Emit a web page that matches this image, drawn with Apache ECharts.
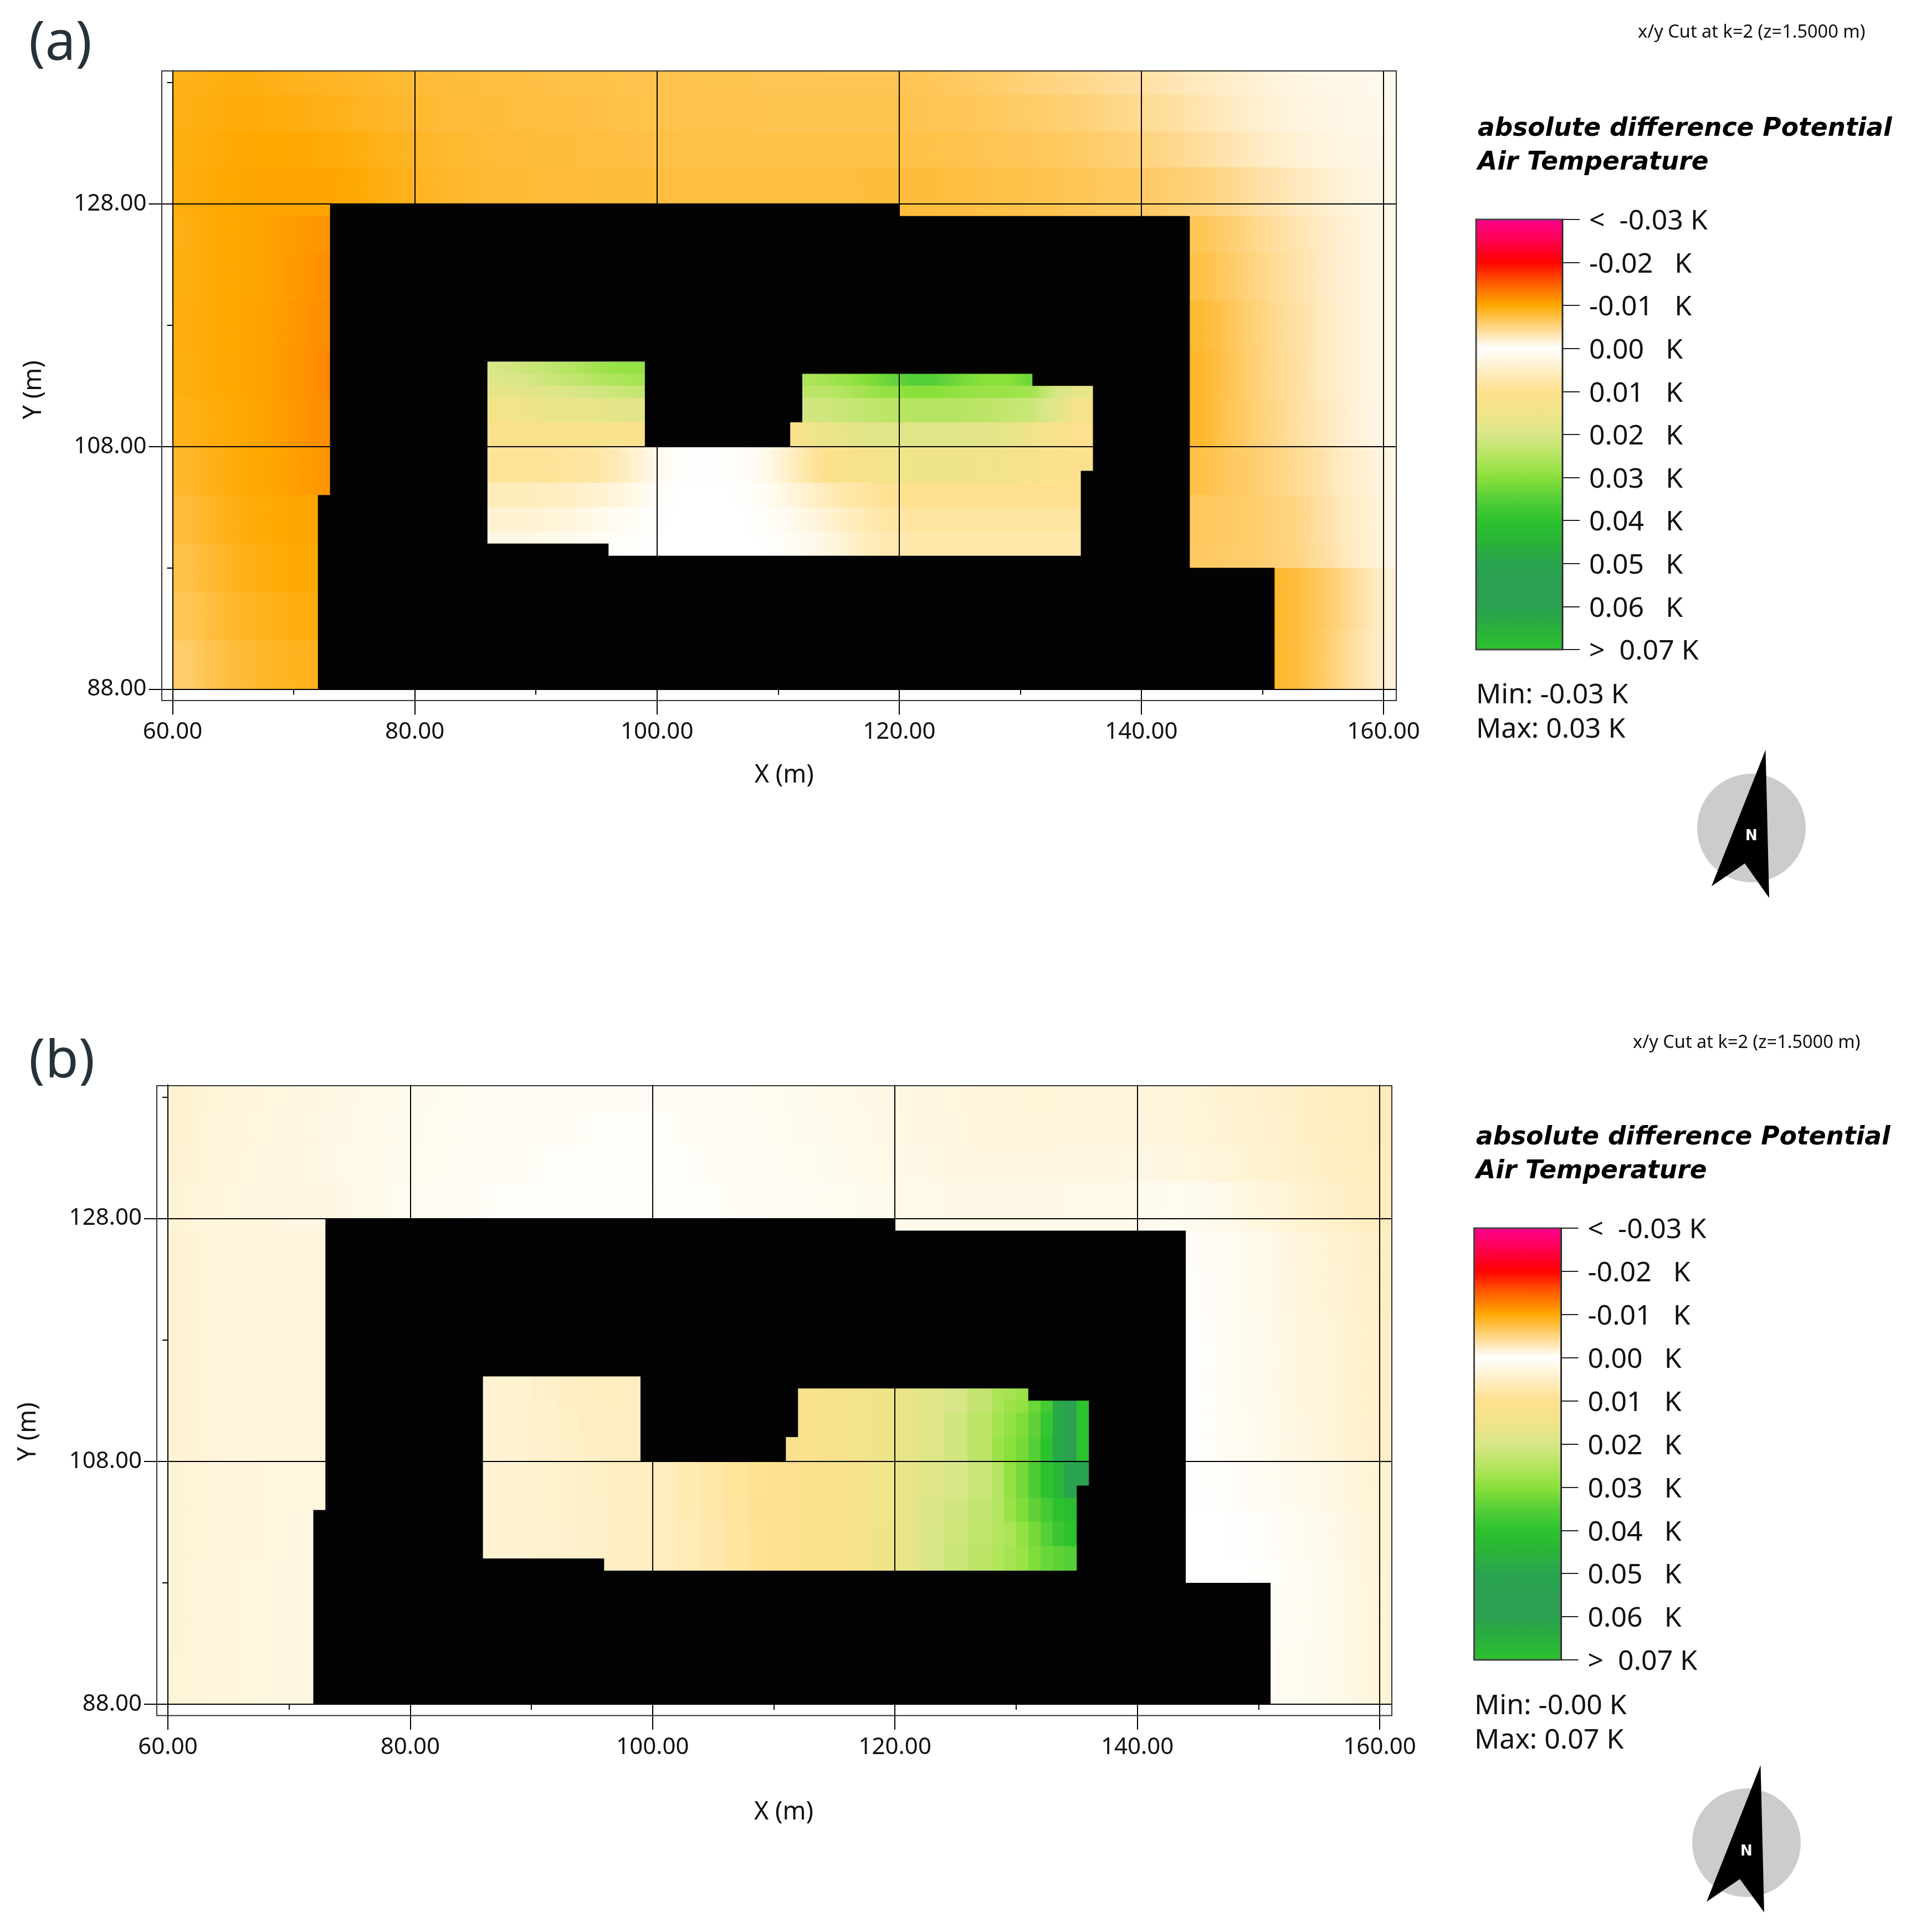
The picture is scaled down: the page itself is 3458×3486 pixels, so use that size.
<!DOCTYPE html>
<html>
<head>
<meta charset="utf-8">
<style>html,body{margin:0;padding:0;background:#fff}#chart{width:3458px;height:3486px}</style>
<script src="https://cdn.jsdelivr.net/npm/echarts@6/dist/echarts.min.js"></script>
</head>
<body>
<div id="chart"></div>
<script>
// all field values are in mK, null = no cell in that spot (building)
var xTickValues = [60, 80, 100, 120, 140, 160];
var yTickValues = [88, 108, 128];
var xMinorValues = [70, 90, 110, 130, 150];
var yMinorValues = [98, 118, 138];

var legendTicks = [-30, -20, -10, 0, 10, 20, 30, 40, 50, 60, 70];
var legendLabels = ['<  -0.03 K', '-0.02   K', '-0.01   K', '0.00   K', '0.01   K', '0.02   K', '0.03   K', '0.04   K', '0.05   K', '0.06   K', '>  0.07 K'];
// colour bar, one colour every 5 mK from -30 to 70
var colorStops = ['#ff0090', '#ff0050', '#ff0000', '#ff5c00', '#ffa800', '#ffd480', '#ffffff', '#ffefc6', '#ffe08e', '#f0e488', '#d9e688',
  '#b5e560', '#8ae03a', '#55cf38', '#2cc22e', '#2ab338', '#2aa350', '#2aa050', '#2aa050', '#2ab03c', '#2cc22e'];

// building footprint and inner court outline, metres
var buildingOutline = [[73, 108], [73, 128], [120, 128], [120, 127], [144, 127], [144, 98], [151, 98], [151, 88], [72, 88], [72, 104], [73, 104]];
var courtOutline = [[86, 108], [86, 115], [99, 115], [99, 108], [111, 108], [111, 110], [112, 110], [112, 114], [131, 114], [131, 113], [136, 113], [136, 106], [135, 106], [135, 99], [96, 99], [96, 100], [86, 100]];

// cell edges, metres
var topX = [60, 62, 64, 66, 68, 70, 72, 74, 76, 78, 80, 82, 84, 86, 88, 90, 92, 94, 96, 98, 100, 102, 104, 106, 108, 110, 112, 114, 116, 118, 120, 122, 124, 126, 128, 130, 132, 134, 136, 138, 140, 142, 144, 146, 148, 150, 152, 154, 156, 158, 160, 161];
var topY = [139, 137, 134, 131, 127];
var leftX = [60, 62, 64, 66, 68, 70, 72, 74];
var leftY = [127, 124, 120, 116, 112, 108, 104, 100, 96, 92, 88];
var rightX = [144, 146, 148, 150, 152, 154, 156, 158, 160, 161];
var rightY = [127, 124, 120, 116, 112, 108, 104, 100, 98, 93, 88];
var courtY = [115, 114, 113, 112, 110, 108, 105, 103, 101, 99];
var courtXa = [86, 88, 90, 92, 94, 96, 98, 100, 102, 104, 106, 108, 110, 112, 114, 116, 118, 120, 122, 124, 126, 128, 130, 132, 134, 136];
var courtXb = [86, 88, 90, 92, 94, 96, 98, 100, 102, 104, 106, 108, 110, 112, 114, 116, 118, 120, 122, 124, 126, 128, 129, 130, 131, 132, 133, 134, 135, 136];

// panel (a)
var aTop = [
  [-9, -9.2, -9.4, -9.3, -9, -8.8, -8.6, -8.4, -8.2, -8, -7.8, -7.7, -7.6, -7.5, -7.4, -7.3, -7.2, -7.2, -7.1, -7, -7, -6.9, -6.9, -6.9, -6.8, -6.8, -6.8, -6.7, -6.7, -6.7, -6.7, -6.5, -6.2, -5.9, -5.6, -5.2, -4.9, -4.6, -4.2, -3.8, -3.4, -2.9, -2.4, -2.1, -1.7, -1.4, -1.1, -1, -0.9, -0.8, -0.7],
  [-9.2, -9.4, -9.6, -9.6, -9.5, -9.3, -9.1, -8.8, -8.5, -8.2, -8, -7.8, -7.7, -7.6, -7.5, -7.4, -7.4, -7.3, -7.2, -7.1, -7.1, -7, -7, -7, -6.9, -6.9, -6.9, -6.9, -6.9, -6.9, -6.9, -6.8, -6.6, -6.4, -6.1, -5.9, -5.6, -5.3, -4.9, -4.5, -4.1, -3.6, -3, -2.5, -2, -1.6, -1.3, -1.1, -1, -0.9, -0.7],
  [-9.3, -9.6, -9.9, -10, -10, -9.9, -9.7, -9.4, -9, -8.7, -8.3, -8.1, -7.9, -7.8, -7.7, -7.6, -7.6, -7.5, -7.4, -7.3, -7.3, -7.2, -7.2, -7.2, -7.2, -7.2, -7.2, -7.2, -7.2, -7.2, -7.2, -7.1, -7, -6.8, -6.6, -6.5, -6.3, -6, -5.7, -5.3, -4.9, -4.4, -3.8, -3.2, -2.6, -2, -1.6, -1.3, -1.1, -1, -0.8],
  [-9.4, -9.8, -10, -10.2, -10.3, -10.3, -10.2, -9.9, -9.4, -9, -8.6, -8.3, -8.1, -8, -7.9, -7.8, -7.8, -7.7, -7.6, -7.6, -7.5, -7.5, -7.5, -7.5, -7.5, -7.5, -7.5, -7.5, -7.6, -7.6, -7.6, -7.6, -7.5, -7.3, -7.2, -7.1, -6.9, -6.6, -6.4, -6.2, -6, -5.6, -5.2, -4.6, -3.9, -3.2, -2.5, -2, -1.5, -1.1, -0.8]
];
var aLeft = [
  [-9.2, -9.8, -10, -10.2, -10.6, -11, -11.4],
  [-9.3, -9.8, -10, -10.2, -10.6, -11.2, -11.8],
  [-9.4, -9.8, -10, -10.3, -10.8, -11.4, -12],
  [-9.3, -9.7, -10, -10.3, -10.9, -11.5, -12.2],
  [-9, -9.5, -9.9, -10.2, -10.8, -11.4, -12],
  [-8.3, -9, -9.6, -10, -10.3, -10.8, -11.3],
  [-7.7, -8.5, -9.2, -9.7, -10, -10.2, -10.2],
  [-7.2, -8, -8.8, -9.3, -9.8, -9.9, -9.9],
  [-6.6, -7.5, -8.2, -8.8, -9.2, -9.5, -9.5],
  [-5.8, -6.8, -7.6, -8.2, -8.6, -8.9, -8.9]
];
var aRight = [
  [-6.6, -5.8, -4.8, -3.9, -3.1, -2.3, -1.7, -1.1, -0.8],
  [-7.2, -6.2, -5.1, -4.2, -3.3, -2.4, -1.7, -1.1, -0.8],
  [-8, -6.8, -5.5, -4.4, -3.5, -2.5, -1.7, -1.1, -0.8],
  [-8.3, -7, -5.6, -4.5, -3.6, -2.5, -1.7, -1.1, -0.8],
  [-8.2, -6.8, -5.7, -4.6, -3.7, -2.7, -1.9, -1.2, -0.8],
  [-7.2, -6.4, -5.8, -5, -4.2, -3.2, -2.2, -1.5, -1],
  [-6.4, -6.1, -5.8, -5.3, -4.7, -3.6, -2.5, -1.7, -1.1],
  [-6.2, -6, -5.8, -5.4, -4.9, -3.8, -2.6, -1.7, -1.1],
  [null, null, null, -8.2, -7.5, -6.2, -4.5, -2.8, -1.5],
  [null, null, null, -8.2, -7.5, -6, -4.2, -2.6, -1.5]
];
var aCourt = [
  [20, 22, 23, 25, 27, 29, 29, null, null, null, null, null, null, null, null, null, null, null, null, null, null, null, null, null, null],
  [19, 20, 22, 23, 25, 26, 27, null, null, null, null, null, null, 26, 28, 30, 33, 35, 35, 32, 30, 30, 33, null, null],
  [17, 18, 19, 20, 21, 22, 23, null, null, null, null, null, null, 24, 25, 27, 29, 30, 30, 29, 28, 28, 27, 20, 17],
  [14, 15, 16, 17, 17, 18, 18, null, null, null, null, null, null, 21, 22, 23, 24, 25, 25, 25, 24, 23, 22, 18, 13],
  [11, 11, 12, 12, 12, 12, 11, null, null, null, null, null, 11, 15, 17, 18, 19, 19, 19, 18, 18, 17, 15, 12, 10],
  [9, 9, 9, 8.5, 8, 6, 3, 0.5, 0.2, 0.2, 0.5, 2, 5, 9, 12, 13, 14, 15, 15, 15, 14.5, 14, 13, 12, 11],
  [6, 6, 5.5, 5, 4, 3, 1.5, 0.2, 0, 0, 0.2, 1, 3, 5, 7, 8.5, 9.5, 10, 10, 10, 10, 10, 10, 10, 10],
  [4, 4, 3.5, 3, 2, 1, 0.5, 0, 0, 0, 0.1, 0.5, 1.5, 3, 5, 6.5, 8, 8.5, 8.5, 8.5, 8.5, 8.5, 8.5, 8.5, 8.5],
  [2.5, 2.5, 2, 1.5, 1, 0.5, 0.2, 0, 0, 0, 0, 0.3, 1, 2, 3.5, 5.5, 7, 7.5, 7.5, 7.5, 7.5, 7.5, 7.5, 7.5, 7.5]
];

// panel (b)
var bTop = [
  [4, 3.6, 3.2, 3, 2.8, 2.6, 2.4, 2.2, 2, 1.8, 1.6, 1.4, 1.2, 1.1, 1, 1, 0.9, 0.9, 0.8, 0.8, 0.8, 0.9, 1, 1.1, 1.3, 1.5, 1.7, 1.9, 2.1, 2.3, 2.5, 2.7, 2.9, 3.1, 3.2, 3.4, 3.4, 3.3, 3.3, 3.2, 3.2, 3.3, 3.5, 3.8, 4.1, 4.4, 4.8, 5.2, 5.6, 5.8, 6],
  [3.9, 3.5, 3.1, 2.9, 2.7, 2.5, 2.3, 2.1, 1.9, 1.7, 1.5, 1.3, 1.1, 1, 0.9, 0.8, 0.8, 0.7, 0.7, 0.7, 0.7, 0.8, 0.9, 1, 1.2, 1.4, 1.6, 1.8, 2, 2.2, 2.4, 2.6, 2.8, 3, 3.1, 3.2, 3.2, 3.1, 3, 3, 3.1, 3.2, 3.4, 3.7, 4, 4.3, 4.7, 5.1, 5.5, 5.7, 6],
  [3.8, 3.4, 3, 2.8, 2.6, 2.4, 2.2, 2, 1.8, 1.6, 1.4, 1.2, 1, 0.9, 0.8, 0.7, 0.7, 0.6, 0.6, 0.6, 0.6, 0.7, 0.8, 0.9, 1, 1.2, 1.4, 1.6, 1.8, 2, 2.1, 2.3, 2.5, 2.7, 2.8, 2.8, 2.7, 2.6, 2.6, 2.5, 2.5, 2.6, 2.9, 3.3, 3.7, 4.1, 4.5, 4.9, 5.3, 5.6, 5.9],
  [3.6, 3.2, 2.9, 2.8, 2.7, 2.6, 2.5, 2.2, 1.8, 1.4, 1.2, 1, 0.8, 0.7, 0.6, 0.5, 0.5, 0.5, 0.5, 0.5, 0.5, 0.6, 0.7, 0.8, 0.9, 1, 1.1, 1.3, 1.5, 1.7, 1.8, 2, 2.1, 2.2, 2.2, 2.2, 2.1, 2, 1.9, 1.8, 1.6, 1.4, 1.5, 2, 2.6, 3.2, 3.8, 4.4, 4.9, 5.3, 5.7]
];
var bLeft = [
  [3.8, 3.4, 3.2, 3.1, 3, 3, 3],
  [3.8, 3.4, 3.2, 3.1, 3, 3, 3],
  [3.8, 3.4, 3.2, 3.1, 3, 3, 3.1],
  [3.8, 3.4, 3.2, 3.1, 3, 3, 3.1],
  [3.8, 3.4, 3.2, 3.1, 3, 3, 3],
  [3.7, 3.3, 3.1, 3, 2.9, 2.9, 2.9],
  [3.7, 3.3, 3.1, 3, 2.9, 2.8, 2.8],
  [3.6, 3.2, 3, 2.9, 2.8, 2.8, 2.8],
  [3.6, 3.2, 3, 2.9, 2.8, 2.7, 2.7],
  [3.5, 3.2, 3, 2.9, 2.8, 2.7, 2.7]
];
var bRight = [
  [0.8, 1.2, 1.6, 2.2, 3, 3.5, 4, 4.7, 5.3],
  [0.5, 1.1, 1.6, 2.1, 2.9, 3.4, 3.9, 4.6, 5.2],
  [0.3, 1, 1.5, 2, 2.8, 3.2, 3.8, 4.5, 5],
  [0.3, 1, 1.5, 2, 2.8, 3.2, 3.8, 4.5, 5],
  [0.3, 0.9, 1.4, 1.9, 2.5, 3, 3.6, 4.3, 4.9],
  [0.2, 0.4, 0.8, 1.2, 1.7, 2.2, 2.8, 3.5, 4.3],
  [0, 0.1, 0.3, 0.7, 1.2, 1.7, 2.4, 3.2, 4],
  [0, 0, 0.1, 0.4, 1, 1.5, 2.2, 3, 3.8],
  [null, null, null, 1, 1.1, 1.5, 2.1, 2.9, 3.7],
  [null, null, null, 1.2, 1.3, 1.6, 2.1, 2.9, 3.6]
];
var bCourt = [
  [4, 4.2, 4.6, 5, 5.4, 5.5, 5.2, null, null, null, null, null, null, null, null, null, null, null, null, null, null, null, null, null, null, null, null, null, null],
  [4, 4.2, 4.6, 5, 5.4, 5.5, 5.2, null, null, null, null, null, null, 12, 13, 14, 15, 17, 19, 20, 23, 26, 27, 28, null, null, null, null, null],
  [3.9, 4.1, 4.5, 4.9, 5.3, 5.4, 5.2, null, null, null, null, null, null, 12, 13, 14, 15, 17, 19, 20, 23, 26, 28, 29, 33, 37, 48, 55, 70],
  [3.9, 4.1, 4.5, 4.8, 5.2, 5.3, 5.2, null, null, null, null, null, null, 12, 13, 14, 15, 17, 19, 21, 24, 27, 29, 31, 34, 39, 48, 55, 70],
  [3.8, 4, 4.4, 4.7, 5, 5.2, 5.2, null, null, null, null, null, 11, 12, 13, 14, 15, 17, 19, 21, 24, 28, 30, 32, 35, 40, 49, 56, 70],
  [3.8, 3.9, 4.2, 4.5, 4.8, 5, 5.2, 5.8, 6.8, 7.8, 8.8, 9.5, 10, 11, 12, 13, 14.5, 17, 19, 20, 22, 25, 29, 32, 36, 40, 44, 50, 52],
  [3.8, 3.9, 4.2, 4.5, 4.7, 5, 5.2, 5.8, 6.6, 7.6, 8.6, 9.6, 10, 11, 12, 13, 14.5, 17, 19.5, 21, 23, 25, 28, 31, 34, 37, 40, 42, 42],
  [3.8, 3.9, 4.2, 4.4, 4.6, 4.9, 5.2, 5.8, 6.5, 7.4, 8.4, 9.5, 10, 11, 12, 13, 15, 17, 20, 21.5, 23.5, 25, 26, 29, 32, 35, 38, 40, 40],
  [3.8, 3.9, 4.2, 4.4, 4.6, 4.9, 5.2, 5.8, 6.5, 7.4, 8.4, 9.5, 10, 11, 12, 13, 15, 17, 20, 22, 24, 25.5, 27, 28, 31, 33, 34, 35, 35]
];

var FONT = '"Noto Sans"';
var myChart = echarts.init(document.getElementById('chart'), null, { renderer: 'canvas' });

function colorOf(v) {
  return echarts.color.lerp((v + 30) / 100, colorStops);
}

// turn a block of rows into [x0, x1, y0, y1, value, left value, right value] cells
function addCells(out, xs, ys, rows, sharp) {
  rows.forEach(function (row, r) {
    row.forEach(function (v, c) {
      if (v === null) return;
      var l = row[c - 1], h = row[c + 1];
      if (sharp || l === undefined || l === null) l = v;
      if (sharp || h === undefined || h === null) h = v;
      out.push([xs[c], xs[c + 1], ys[r], ys[r + 1], v, l, h]);
    });
  });
}

function renderCell(params, api) {
  var p0 = api.coord([api.value(0), api.value(2)]);
  var p1 = api.coord([api.value(1), api.value(3)]);
  var x0 = Math.round(p0[0]), x1 = Math.round(p1[0]);
  var y0 = Math.round(p0[1]), y1 = Math.round(p1[1]);
  var v = api.value(4), l = api.value(5), h = api.value(6);
  // cell edges blend half way to the next cell in the row, like the original plot
  var fill = (l === v && h === v) ? colorOf(v) : new echarts.graphic.LinearGradient(0, 0, 1, 0, [
    { offset: 0, color: colorOf((l + v) / 2) },
    { offset: 0.5, color: colorOf(v) },
    { offset: 1, color: colorOf((h + v) / 2) }
  ]);
  return {
    type: 'rect',
    shape: { x: x0, y: y0, width: x1 - x0, height: y1 - y0 },
    style: { fill: fill }
  };
}

// one ring with a hole, the seam runs under the y=108 grid line
function renderBuilding(params, api) {
  var ring = buildingOutline.concat([buildingOutline[0]]);
  var hole = [courtOutline[0]].concat(courtOutline.slice(1).reverse()).concat([courtOutline[0]]);
  var points = ring.concat(hole).concat([ring[0]]).map(function (p) {
    return api.coord(p);
  });
  return { type: 'polygon', shape: { points: points }, style: { fill: '#030303' } };
}

function renderBar(params, api) {
  var p0 = api.coord([0, legendTicks[0]]);
  var p1 = api.coord([1, legendTicks[legendTicks.length - 1]]);
  var stops = colorStops.map(function (c, i) {
    return { offset: i / (colorStops.length - 1), color: c };
  });
  return {
    type: 'rect',
    shape: { x: p0[0], y: p0[1], width: p1[0] - p0[0], height: p1[1] - p0[1] },
    style: {
      fill: new echarts.graphic.LinearGradient(0, 0, 0, 1, stops),
      stroke: '#444', lineWidth: 3
    }
  };
}

function text(x, y, str, size, extra) {
  var style = { x: x, y: y + 4, text: str, font: size + 'px ' + FONT, fill: '#111', verticalAlign: 'middle', align: 'left' };
  for (var k in extra) style[k] = extra[k];
  return { type: 'text', z: 30, silent: true, style: style };
}

function whiteBand(y0, y1) {
  return {
    type: 'rect', z: 31, silent: true,
    shape: { x: 30, y: y0, width: 170, height: y1 - y0 }, style: { fill: '#fff' }
  };
}

var panels = [
  {
    label: '(a)', labelX: 52, labelY: 76, labelTop: 38, labelBottom: 124,
    grid: { left: 311.5, top: 127.2, width: 2207.4, height: 1116.3 },
    frame: { x: 292, y: 128, width: 2228, height: 1136 },
    xGap: 133, xPad: [0, 0, 0, 0], yGap: 228, yPad: [0, 36, 0, 0],
    bar: { left: 2664, top: 396, width: 156, height: 776 },
    cutX: 2956, cutY: 55, titleX: 2667, titleY: 229,
    minY: 1251, minText: 'Min: -0.03 K', maxText: 'Max: 0.03 K',
    compass: { cx: 3161, cy: 1494, tip: [3186.5, 1353], right: [3193, 1620], notch: [3149, 1558], left: [3089, 1599], nY: 1505 },
    blocks: [[topX, topY, aTop], [leftX, leftY, aLeft], [rightX, rightY, aRight], [courtXa, courtY, aCourt]]
  },
  {
    label: '(b)', labelX: 52, labelY: 1912, labelTop: 1873, labelBottom: 1959,
    grid: { left: 303, top: 1957.5, width: 2208.9, height: 1117.5 },
    frame: { x: 283, y: 1959, width: 2229, height: 1136.5 },
    xGap: 173, xPad: [0, 0, 0, 14], yGap: 229, yPad: [0, 134, 0, 0],
    bar: { left: 2660.5, top: 2216, width: 157, height: 779 },
    cutX: 2947, cutY: 1878, titleX: 2664, titleY: 2049,
    minY: 3075, minText: 'Min: -0.00 K', maxText: 'Max: 0.07 K',
    compass: { cx: 3152, cy: 3325, tip: [3177.5, 3185], right: [3184, 3450.5], notch: [3140, 3390.5], left: [3080, 3431.6], nY: 3337 },
    blocks: [[topX, topY, bTop], [leftX, leftY, bLeft], [rightX, rightY, bRight], [courtXb, courtY, bCourt, true]]
  }
];

var grids = [], xAxes = [], yAxes = [], series = [], graphics = [];
var lineStyle = { color: '#000', width: 2 };

panels.forEach(function (p, n) {
  var gi = grids.length;
  grids.push(p.grid);
  grids.push(p.bar);

  var xMain = xAxes.length;
  xAxes.push({
    type: 'value', gridIndex: gi, position: 'bottom', min: 60, max: 161, z: 5,
    name: 'X (m)', nameLocation: 'middle', nameGap: p.xGap,
    nameTextStyle: { fontFamily: FONT, fontSize: 45, color: '#111', padding: p.xPad },
    axisLine: { lineStyle: lineStyle },
    axisTick: { length: 46, customValues: xTickValues, lineStyle: lineStyle },
    axisLabel: {
      customValues: xTickValues, margin: 57, fontFamily: FONT, fontSize: 42, color: '#111',
      formatter: function (v) { return v.toFixed(2); }
    },
    splitLine: { show: true, lineStyle: lineStyle }
  });
  xAxes.push({
    type: 'value', gridIndex: gi, position: 'bottom', min: 60, max: 161, z: 5,
    axisLine: { show: false }, axisLabel: { show: false }, splitLine: { show: false },
    axisTick: { length: 10, customValues: xMinorValues, lineStyle: lineStyle }
  });
  var xBar = xAxes.length;
  xAxes.push({ type: 'value', gridIndex: gi + 1, min: 0, max: 1, show: false });

  var yMain = yAxes.length;
  yAxes.push({
    type: 'value', gridIndex: gi, position: 'left', min: 88, max: 139, z: 5,
    name: 'Y (m)', nameLocation: 'middle', nameGap: p.yGap,
    nameTextStyle: { fontFamily: FONT, fontSize: 45, color: '#111', padding: p.yPad },
    axisLine: { lineStyle: lineStyle },
    axisTick: { length: 43, customValues: yTickValues, lineStyle: lineStyle },
    axisLabel: {
      customValues: yTickValues, margin: 47, fontFamily: FONT, fontSize: 42, color: '#111',
      formatter: function (v) { return v.toFixed(2); }
    },
    splitLine: { show: true, lineStyle: lineStyle }
  });
  yAxes.push({
    type: 'value', gridIndex: gi, position: 'left', min: 88, max: 139, z: 5,
    axisLine: { show: false }, axisLabel: { show: false }, splitLine: { show: false },
    axisTick: { length: 10, customValues: yMinorValues, lineStyle: lineStyle }
  });
  var yBar = yAxes.length;
  yAxes.push({
    type: 'value', gridIndex: gi + 1, min: -30, max: 70, inverse: true, position: 'right', z: 5,
    axisLine: { show: true, onZero: false, lineStyle: { color: '#222', width: 2 } },
    axisTick: { show: true, length: 31, customValues: legendTicks, lineStyle: { color: '#222', width: 2 } },
    axisLabel: {
      customValues: legendTicks, margin: 48,
      rich: { t: { fontFamily: FONT, fontSize: 50, color: '#111', padding: [8, 0, 0, 0] } },
      formatter: function (v) { return '{t|' + legendLabels[legendTicks.indexOf(v)] + '}'; }
    },
    splitLine: { show: false }
  });

  var cells = [];
  p.blocks.forEach(function (b) { addCells(cells, b[0], b[1], b[2], b[3]); });
  series.push({
    type: 'custom', name: 'field ' + p.label, xAxisIndex: xMain, yAxisIndex: yMain,
    renderItem: renderCell, data: cells, encode: { x: [0, 1], y: [2, 3] }, silent: true, z: 2
  });
  series.push({
    type: 'custom', name: 'building ' + p.label, xAxisIndex: xMain, yAxisIndex: yMain,
    renderItem: renderBuilding, data: [[72, 88]], silent: true, z: 3
  });
  series.push({
    type: 'custom', name: 'scale ' + p.label, xAxisIndex: xBar, yAxisIndex: yBar,
    renderItem: renderBar, data: [[0, -30]], silent: true, z: 2
  });

  // frame, panel letter, notes
  graphics.push({
    type: 'rect', z: 20, silent: true, shape: p.frame,
    style: { fill: 'none', stroke: '#333', lineWidth: 2 }
  });
  graphics.push(text(p.labelX, p.labelY, p.label, 98, { fill: '#263238' }));
  graphics.push(whiteBand(p.labelTop - 30, p.labelTop));
  graphics.push(whiteBand(p.labelBottom, p.labelBottom + 30));
  graphics.push(text(p.cutX, p.cutY, 'x/y Cut at k=2 (z=1.5000 m)', 32.5));
  graphics.push(text(p.titleX, p.titleY, 'absolute difference Potential', 46, { font: 'italic bold 45.5px "DejaVu Sans"', fill: '#000' }));
  graphics.push(text(p.titleX, p.titleY + 61, 'Air Temperature', 46, { font: 'italic bold 45.5px "DejaVu Sans"', fill: '#000' }));
  graphics.push(text(p.titleX - 3, p.minY, p.minText, 50));
  graphics.push(text(p.titleX - 3, p.minY + 62, p.maxText, 50));

  // north arrow
  var c = p.compass;
  graphics.push({
    type: 'circle', z: 20, silent: true, shape: { cx: c.cx, cy: c.cy, r: 98 }, style: { fill: '#cccccc' }
  });
  graphics.push({
    type: 'polygon', z: 21, silent: true, shape: { points: [c.tip, c.right, c.notch, c.left] }, style: { fill: '#000' }
  });
  graphics.push(text(c.cx, c.nY, 'N', 26, { font: 'bold 26px "DejaVu Sans"', fill: '#fff', align: 'center' }));
});

myChart.setOption({
  animation: false,
  backgroundColor: '#fff',
  grid: grids,
  xAxis: xAxes,
  yAxis: yAxes,
  series: series,
  graphic: graphics
});
</script>
</body>
</html>
